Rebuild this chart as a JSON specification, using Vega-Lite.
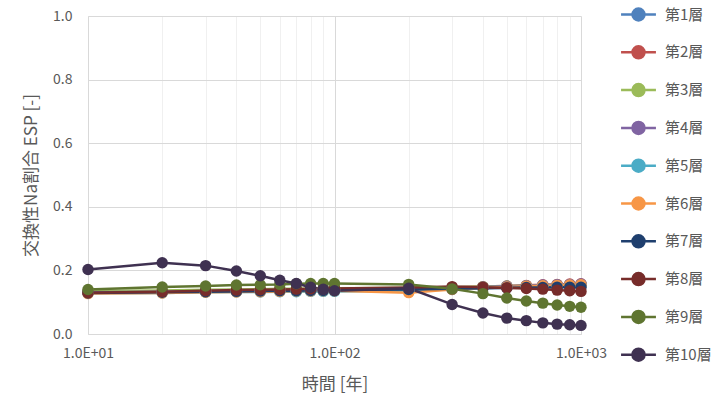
{
  "$schema": "https://vega.github.io/schema/vega-lite/v6.json",
  "autosize": {"type": "none"},
  "padding": {"left": 88, "top": 16, "right": 140, "bottom": 71},
  "width": 493,
  "height": 318,
  "background": "white",
  "config": {
    "font": "Noto Sans CJK JP",
    "view": {"stroke": null},
    "axis": {"labelColor": "#595959", "titleColor": "#595959", "labelFontSize": 14, "titleFontSize": 17, "titleFontWeight": "normal", "gridColor": "#D9D9D9", "domainColor": "#D9D9D9", "ticks": false},
    "legend": {"labelColor": "#595959", "labelFontSize": 15}
  },
  "data": {"values": [
    {"s":"第1層","t":10,"v":0.130},{"s":"第1層","t":20,"v":0.131},{"s":"第1層","t":30,"v":0.133},{"s":"第1層","t":40,"v":0.134},{"s":"第1層","t":50,"v":0.135},{"s":"第1層","t":60,"v":0.136},{"s":"第1層","t":70,"v":0.137},{"s":"第1層","t":80,"v":0.137},{"s":"第1層","t":90,"v":0.138},{"s":"第1層","t":100,"v":0.138},{"s":"第1層","t":200,"v":0.140},{"s":"第1層","t":300,"v":0.143},{"s":"第1層","t":400,"v":0.146},{"s":"第1層","t":500,"v":0.149},{"s":"第1層","t":600,"v":0.151},{"s":"第1層","t":700,"v":0.153},{"s":"第1層","t":800,"v":0.154},{"s":"第1層","t":900,"v":0.155},{"s":"第1層","t":1000,"v":0.156},
    {"s":"第2層","t":10,"v":0.132},{"s":"第2層","t":20,"v":0.134},{"s":"第2層","t":30,"v":0.136},{"s":"第2層","t":40,"v":0.137},{"s":"第2層","t":50,"v":0.138},{"s":"第2層","t":60,"v":0.139},{"s":"第2層","t":70,"v":0.140},{"s":"第2層","t":80,"v":0.140},{"s":"第2層","t":90,"v":0.141},{"s":"第2層","t":100,"v":0.141},{"s":"第2層","t":200,"v":0.143},{"s":"第2層","t":300,"v":0.146},{"s":"第2層","t":400,"v":0.149},{"s":"第2層","t":500,"v":0.151},{"s":"第2層","t":600,"v":0.153},{"s":"第2層","t":700,"v":0.155},{"s":"第2層","t":800,"v":0.156},{"s":"第2層","t":900,"v":0.157},{"s":"第2層","t":1000,"v":0.158},
    {"s":"第3層","t":10,"v":0.135},{"s":"第3層","t":20,"v":0.137},{"s":"第3層","t":30,"v":0.139},{"s":"第3層","t":40,"v":0.140},{"s":"第3層","t":50,"v":0.141},{"s":"第3層","t":60,"v":0.142},{"s":"第3層","t":70,"v":0.142},{"s":"第3層","t":80,"v":0.143},{"s":"第3層","t":90,"v":0.143},{"s":"第3層","t":100,"v":0.144},{"s":"第3層","t":200,"v":0.145},{"s":"第3層","t":300,"v":0.147},{"s":"第3層","t":400,"v":0.149},{"s":"第3層","t":500,"v":0.151},{"s":"第3層","t":600,"v":0.152},{"s":"第3層","t":700,"v":0.153},{"s":"第3層","t":800,"v":0.154},{"s":"第3層","t":900,"v":0.155},{"s":"第3層","t":1000,"v":0.155},
    {"s":"第4層","t":10,"v":0.131},{"s":"第4層","t":20,"v":0.133},{"s":"第4層","t":30,"v":0.135},{"s":"第4層","t":40,"v":0.136},{"s":"第4層","t":50,"v":0.137},{"s":"第4層","t":60,"v":0.138},{"s":"第4層","t":70,"v":0.138},{"s":"第4層","t":80,"v":0.139},{"s":"第4層","t":90,"v":0.139},{"s":"第4層","t":100,"v":0.140},{"s":"第4層","t":200,"v":0.142},{"s":"第4層","t":300,"v":0.145},{"s":"第4層","t":400,"v":0.148},{"s":"第4層","t":500,"v":0.150},{"s":"第4層","t":600,"v":0.152},{"s":"第4層","t":700,"v":0.154},{"s":"第4層","t":800,"v":0.155},{"s":"第4層","t":900,"v":0.156},{"s":"第4層","t":1000,"v":0.157},
    {"s":"第5層","t":10,"v":0.128},{"s":"第5層","t":20,"v":0.129},{"s":"第5層","t":30,"v":0.131},{"s":"第5層","t":40,"v":0.132},{"s":"第5層","t":50,"v":0.132},{"s":"第5層","t":60,"v":0.133},{"s":"第5層","t":70,"v":0.133},{"s":"第5層","t":80,"v":0.134},{"s":"第5層","t":90,"v":0.134},{"s":"第5層","t":100,"v":0.134},{"s":"第5層","t":200,"v":0.137},{"s":"第5層","t":300,"v":0.140},{"s":"第5層","t":400,"v":0.144},{"s":"第5層","t":500,"v":0.147},{"s":"第5層","t":600,"v":0.149},{"s":"第5層","t":700,"v":0.151},{"s":"第5層","t":800,"v":0.152},{"s":"第5層","t":900,"v":0.153},{"s":"第5層","t":1000,"v":0.154},
    {"s":"第6層","t":10,"v":0.127},{"s":"第6層","t":20,"v":0.129},{"s":"第6層","t":30,"v":0.131},{"s":"第6層","t":40,"v":0.132},{"s":"第6層","t":50,"v":0.133},{"s":"第6層","t":60,"v":0.134},{"s":"第6層","t":70,"v":0.135},{"s":"第6層","t":80,"v":0.135},{"s":"第6層","t":90,"v":0.136},{"s":"第6層","t":100,"v":0.136},{"s":"第6層","t":200,"v":0.130},{"s":"第6層","t":300,"v":0.140},{"s":"第6層","t":400,"v":0.145},{"s":"第6層","t":500,"v":0.148},{"s":"第6層","t":600,"v":0.150},{"s":"第6層","t":700,"v":0.152},{"s":"第6層","t":800,"v":0.153},{"s":"第6層","t":900,"v":0.154},{"s":"第6層","t":1000,"v":0.155},
    {"s":"第7層","t":10,"v":0.129},{"s":"第7層","t":20,"v":0.131},{"s":"第7層","t":30,"v":0.133},{"s":"第7層","t":40,"v":0.134},{"s":"第7層","t":50,"v":0.135},{"s":"第7層","t":60,"v":0.136},{"s":"第7層","t":70,"v":0.136},{"s":"第7層","t":80,"v":0.137},{"s":"第7層","t":90,"v":0.137},{"s":"第7層","t":100,"v":0.138},{"s":"第7層","t":200,"v":0.140},{"s":"第7層","t":300,"v":0.142},{"s":"第7層","t":400,"v":0.144},{"s":"第7層","t":500,"v":0.145},{"s":"第7層","t":600,"v":0.146},{"s":"第7層","t":700,"v":0.146},{"s":"第7層","t":800,"v":0.147},{"s":"第7層","t":900,"v":0.147},{"s":"第7層","t":1000,"v":0.147},
    {"s":"第8層","t":10,"v":0.130},{"s":"第8層","t":20,"v":0.133},{"s":"第8層","t":30,"v":0.136},{"s":"第8層","t":40,"v":0.138},{"s":"第8層","t":50,"v":0.139},{"s":"第8層","t":60,"v":0.140},{"s":"第8層","t":70,"v":0.141},{"s":"第8層","t":80,"v":0.142},{"s":"第8層","t":90,"v":0.142},{"s":"第8層","t":100,"v":0.143},{"s":"第8層","t":200,"v":0.146},{"s":"第8層","t":300,"v":0.149},{"s":"第8層","t":400,"v":0.147},{"s":"第8層","t":500,"v":0.145},{"s":"第8層","t":600,"v":0.143},{"s":"第8層","t":700,"v":0.141},{"s":"第8層","t":800,"v":0.138},{"s":"第8層","t":900,"v":0.136},{"s":"第8層","t":1000,"v":0.134},
    {"s":"第9層","t":10,"v":0.140},{"s":"第9層","t":20,"v":0.148},{"s":"第9層","t":30,"v":0.151},{"s":"第9層","t":40,"v":0.154},{"s":"第9層","t":50,"v":0.155},{"s":"第9層","t":60,"v":0.156},{"s":"第9層","t":70,"v":0.158},{"s":"第9層","t":80,"v":0.159},{"s":"第9層","t":90,"v":0.159},{"s":"第9層","t":100,"v":0.159},{"s":"第9層","t":200,"v":0.156},{"s":"第9層","t":300,"v":0.142},{"s":"第9層","t":400,"v":0.127},{"s":"第9層","t":500,"v":0.113},{"s":"第9層","t":600,"v":0.104},{"s":"第9層","t":700,"v":0.097},{"s":"第9層","t":800,"v":0.091},{"s":"第9層","t":900,"v":0.087},{"s":"第9層","t":1000,"v":0.084},
    {"s":"第10層","t":10,"v":0.203},{"s":"第10層","t":20,"v":0.224},{"s":"第10層","t":30,"v":0.215},{"s":"第10層","t":40,"v":0.198},{"s":"第10層","t":50,"v":0.183},{"s":"第10層","t":60,"v":0.169},{"s":"第10層","t":70,"v":0.159},{"s":"第10層","t":80,"v":0.147},{"s":"第10層","t":90,"v":0.141},{"s":"第10層","t":100,"v":0.136},{"s":"第10層","t":200,"v":0.144},{"s":"第10層","t":300,"v":0.093},{"s":"第10層","t":400,"v":0.066},{"s":"第10層","t":500,"v":0.050},{"s":"第10層","t":600,"v":0.042},{"s":"第10層","t":700,"v":0.035},{"s":"第10層","t":800,"v":0.031},{"s":"第10層","t":900,"v":0.029},{"s":"第10層","t":1000,"v":0.027}
  ]},
  "encoding": {
    "x": {"field": "t", "type": "quantitative", "scale": {"type": "log", "domain": [10, 1000], "nice": false},
      "axis": {"title": "時間 [年]", "values": [10,20,30,40,50,60,70,80,90,100,200,300,400,500,600,700,800,900,1000], "labelExpr": "datum.value==10?'1.0E+01':datum.value==100?'1.0E+02':datum.value==1000?'1.0E+03':''", "labelFlush": false, "labelOverlap": false, "labelPadding": 12, "titlePadding": 16, "domain": true, "labelFontSize": 14,
        "gridColor": {"condition": {"test": "datum.value==10||datum.value==100||datum.value==1000", "value": "#D9D9D9"}, "value": "#F0F0F0"}}},
    "y": {"field": "v", "type": "quantitative", "scale": {"domain": [0, 1]},
      "axis": {"title": "交換性Na割合 ESP [-]", "values": [0,0.2,0.4,0.6,0.8,1.0], "format": ".1f", "labelPadding": 16, "titlePadding": 12, "domain": true}},
    "color": {"field": "s", "type": "nominal",
      "scale": {"domain": ["第1層","第2層","第3層","第4層","第5層","第6層","第7層","第8層","第9層","第10層"],
        "range": ["#4F81BD","#C0504D","#9BBB59","#8064A2","#4BACC6","#F79646","#1F3F6E","#772C2A","#5F7530","#3F3151"]},
      "legend": {"title": null, "orient": "none", "legendX": 538, "legendY": -14, "symbolType": "M-1.6,0H1.6M-0.55,0a0.55,0.55 0 1,0 1.1,0a0.55,0.55 0 1,0 -1.1,0", "symbolSize": 475, "symbolStrokeWidth": 2.5, "rowPadding": 13.8, "labelOffset": 14}}
  },
  "layer": [
    {"mark": {"type": "line", "strokeWidth": 2.5}},
    {"mark": {"type": "circle", "size": 130, "opacity": 1}}
  ]
}
